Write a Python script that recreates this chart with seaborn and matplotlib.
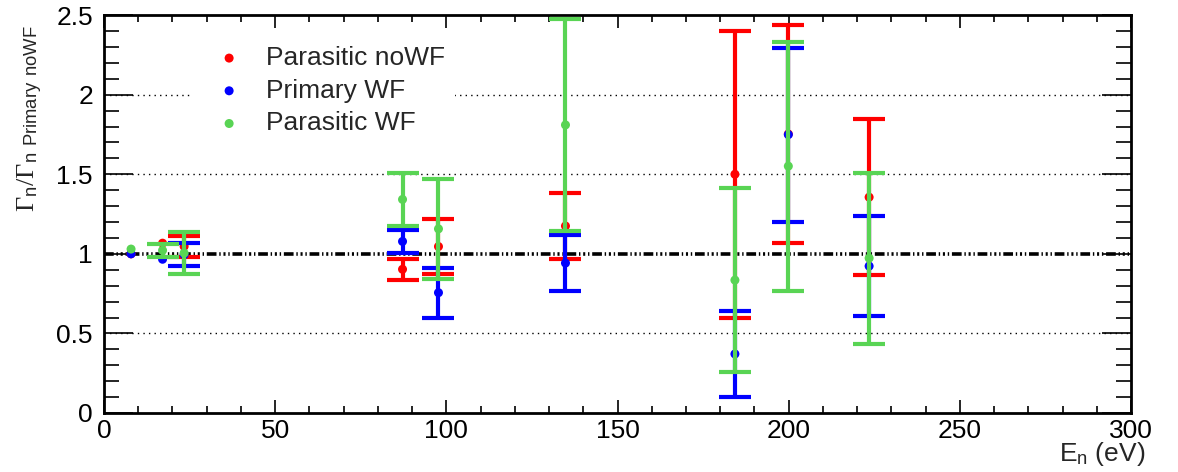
import numpy as np
import pandas as pd
import matplotlib
matplotlib.use("Agg")
import matplotlib.pyplot as plt
from matplotlib.ticker import MultipleLocator, FuncFormatter
import seaborn as sns

# Resonance energies (eV)
energies = [7.9, 17.1, 23.4, 87.2, 97.7, 134.8, 184.3, 199.9, 223.5]

# Gamma_n / Gamma_n(Primary noWF) with symmetric uncertainties
parasitic_nowf = [1.00, 1.067, 1.047, 0.903, 1.046, 1.175, 1.50, 1.753, 1.356]
parasitic_nowf_err = [0.0, 0.0, 0.068, 0.067, 0.173, 0.209, 0.90, 0.686, 0.492]

primary_wf = [1.00, 0.966, 0.995, 1.078, 0.756, 0.942, 0.371, 1.749, 0.923]
primary_wf_err = [0.0, 0.0, 0.072, 0.074, 0.157, 0.176, 0.268, 0.546, 0.314]

parasitic_wf = [1.03, 1.022, 1.005, 1.342, 1.157, 1.81, 0.835, 1.551, 0.973]
parasitic_wf_err = [0.0, 0.039, 0.132, 0.169, 0.316, 0.665, 0.58, 0.783, 0.538]

series_names = ["Parasitic noWF", "Primary WF", "Parasitic WF"]
series_colors = ["#ff0000", "#0000ff", "#59d454"]

sns.set_theme(style="ticks")
plt.rcParams["font.family"] = ["Liberation Sans", "DejaVu Sans"]
plt.rcParams["mathtext.fontset"] = "custom"
plt.rcParams["mathtext.rm"] = "Liberation Serif"
plt.rcParams["mathtext.it"] = "Liberation Serif:italic"
plt.rcParams["mathtext.sf"] = "Liberation Sans"
plt.rcParams["lines.scale_dashes"] = False

fig = plt.figure(figsize=(11.78, 4.72), dpi=100)
ax = fig.add_axes([0.0883, 0.125, 0.8718, 0.843])

# reference lines
for yv in [0.5, 1.5, 2.0]:
    ax.axhline(yv, color="black", lw=1.0, ls=(0, (1, 3)), zorder=1)
ax.axhline(1.0, color="black", lw=2.6, ls=(0, (7, 2, 1, 2, 1.5, 2, 1, 2)), zorder=1.5)

vals = [parasitic_nowf, primary_wf, parasitic_wf]
errs = [parasitic_nowf_err, primary_wf_err, parasitic_wf_err]
for i, (name, color) in enumerate(zip(series_names, series_colors)):
    df = pd.DataFrame({"E": energies, "ratio": vals[i], "err": errs[i]})
    with_err = df[df["err"] > 0]
    ax.errorbar(with_err["E"], with_err["ratio"], yerr=with_err["err"], fmt="none",
                ecolor=color, elinewidth=3, capsize=11.5, capthick=3, zorder=2 + i)
    sns.scatterplot(data=df, x="E", y="ratio", ax=ax, color=color, s=42,
                    edgecolor="none", label=name, zorder=2.5 + i)

ax.set_xlim(0, 300)
ax.set_ylim(0, 2.5)
ax.xaxis.set_major_locator(MultipleLocator(50))
ax.xaxis.set_minor_locator(MultipleLocator(10))
ax.yaxis.set_major_locator(MultipleLocator(0.5))
ax.yaxis.set_minor_locator(MultipleLocator(0.1))
ax.yaxis.set_major_formatter(FuncFormatter(lambda v, p: f"{v:g}"))
ax.tick_params(which="both", direction="in", top=True, right=True, width=1.2, colors="black")
ax.tick_params(which="major", labelsize=19)
ax.tick_params(axis="x", which="major", length=9.5, pad=4)
ax.tick_params(axis="x", which="minor", length=5)
ax.tick_params(axis="y", which="major", length=21, pad=8)
ax.tick_params(axis="y", which="minor", length=10.5)
for sp in ax.spines.values():
    sp.set_linewidth(2)
    sp.set_color("black")

ax.set_xlabel(r"E$_{\mathregular{n}}$ (eV)", fontsize=19, loc="right")
ax.xaxis.set_label_coords(1.0136, -0.068)
ax.set_ylabel(r"$\Gamma_{\mathsf{n}}/\Gamma_{\mathsf{n}\enspace\mathsf{Primary}\enspace\mathsf{noWF}}$",
              fontsize=19, loc="top")
ax.yaxis.set_label_coords(-0.0574, 0.975)

leg = ax.legend(loc="upper left", bbox_to_anchor=(0.073, 0.982), frameon=True,
                fontsize=19, handletextpad=0.38, labelspacing=0.33, borderpad=0.4)
leg.get_frame().set_facecolor("white")
leg.get_frame().set_edgecolor("none")
leg.get_frame().set_alpha(1)
leg.set_zorder(10)

fig.savefig("out.png", dpi=100)
